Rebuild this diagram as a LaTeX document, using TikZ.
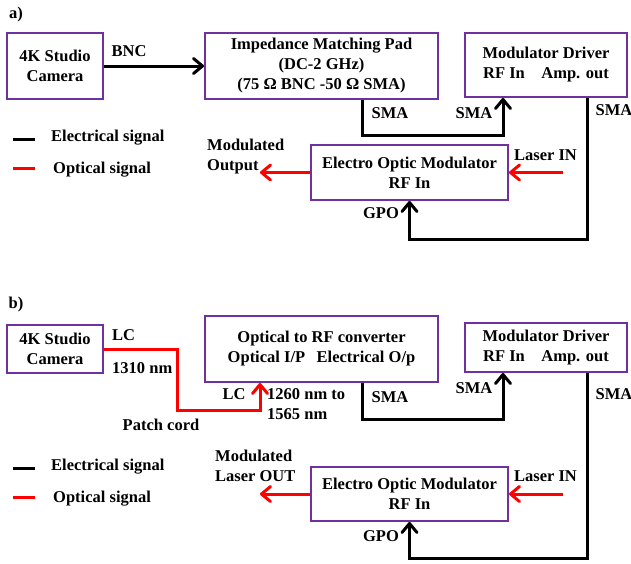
\documentclass[tikz,border=0pt]{standalone}
\usepackage{fontspec}
\setmainfont{Liberation Serif}
\usetikzlibrary{arrows.meta}
\definecolor{boxpurple}{RGB}{112,48,160}
\begin{document}
\begin{tikzpicture}[x=1pt,y=-1pt,
  font=\fontsize{16.5}{20}\selectfont\bfseries,
  blk/.style={draw=boxpurple, line width=2pt, inner sep=0pt, align=center},
  lbl/.style={inner sep=0pt, align=left},
  elec/.style={line width=3pt, black},
  opt/.style={line width=3pt, red},
  tip/.style={-{Straight Barb[length=9pt,width=15pt,line width=3pt,round]}}]
\useasboundingbox (0,0) rectangle (631,563);

% ---------------- panel a ----------------
\node[lbl] (la) at (16,15) {a)};
\node[blk, minimum width=96pt, minimum height=66pt] (camA) at (55,66) {4K Studio\\Camera};
\node[blk, minimum width=233pt, minimum height=66pt] (impA) at (321.5,66) {Impedance Matching Pad\\(DC-2 GHz)\\(75 Ω BNC -50 Ω SMA)};
\node[blk, minimum width=162pt, minimum height=64pt] (drvA) at (546,65) {Modulator Driver\\RF In\hspace{1em}Amp. out};
\node[blk, minimum width=197pt, minimum height=55pt] (eomA) at (409.5,172.5) {Electro Optic Modulator\\RF In};

\draw[elec,tip] (camA.east) -- (impA.west);
\coordinate (smaA) at (503,135);
\draw[elec,tip] ([xshift=40.5pt]impA.south) |- (smaA) -- (smaA |- drvA.south);
\coordinate (gpoA) at (587,239);
\draw[elec,tip] ([xshift=41pt]drvA.south) -- (gpoA) -| (eomA.south);
\coordinate (lasA) at (563,172.5);
\draw[opt,tip] (lasA) -- (eomA.east);
\coordinate (outA) at (260,172.5);
\draw[opt,tip] (eomA.west) -- (outA);

\node[lbl] (bncA) at (129,51) {BNC};
\node[lbl] (smaA1) at (390,113) {SMA};
\node[lbl] (smaA2) at (474,113) {SMA};
\node[lbl] (smaA3) at (614,110) {SMA};
\node[lbl] (lasAl) at (545.5,155) {Laser IN};
\node[lbl] (gpoAl) at (381,213) {GPO};
\node[lbl, anchor=west] (modA) at (207,157) {Modulated\\Output};

\coordinate (leA1) at (13,139); \coordinate (leA2) at (35,139);
\draw[elec] (leA1) -- (leA2);
\node[lbl, anchor=west] (leAt1) at (51,138) {Electrical signal};
\coordinate (leA3) at (13,168); \coordinate (leA4) at (35,168);
\draw[opt] (leA3) -- (leA4);
\node[lbl, anchor=west] (leAt2) at (53,170) {Optical signal};

% ---------------- panel b ----------------
\node[lbl] (lb) at (16,305) {b)};
\node[blk, minimum width=96pt, minimum height=48pt] (camB) at (55,349) {4K Studio\\Camera};
\node[blk, minimum width=233pt, minimum height=66pt] (optB) at (321.5,349) {Optical to RF converter\\Optical I/P\hspace{0.7em}Electrical O/p};
\node[blk, minimum width=162pt, minimum height=49pt] (drvB) at (546,347.5) {Modulator Driver\\RF In\hspace{1em}Amp. out};
\node[blk, minimum width=197pt, minimum height=54pt] (eomB) at (409.5,494) {Electro Optic Modulator\\RF In};

\coordinate (pcB1) at (177,410);
\coordinate (pcB2) at (260,410);
\draw[opt,tip] (camB.east) -| (pcB1) -- (pcB2) -- (pcB2 |- optB.south);
\coordinate (smaB) at (503,419);
\draw[elec,tip] ([xshift=40.5pt]optB.south) |- (smaB) -- (smaB |- drvB.south);
\coordinate (gpoB) at (587,558);
\draw[elec,tip] ([xshift=41pt]drvB.south) -- (gpoB) -| (eomB.south);
\coordinate (lasB) at (563,494);
\draw[opt,tip] (lasB) -- (eomB.east);
\coordinate (outB) at (260,494);
\draw[opt,tip] (eomB.west) -- (outB);

\node[lbl] (lcB1) at (123.5,335) {LC};
\node[lbl, anchor=west] (nmB) at (112,368) {1310 nm};
\node[lbl] (pcB) at (161,425) {Patch cord};
\node[lbl] (lcB2) at (234,394) {LC};
\node[lbl, anchor=west] (rngB) at (267,404) {1260 nm to\\1565 nm};
\node[lbl] (smaB1) at (390,397) {SMA};
\node[lbl] (smaB2) at (474,388) {SMA};
\node[lbl] (smaB3) at (614,394) {SMA};
\node[lbl] (lasBl) at (545.5,476) {Laser IN};
\node[lbl] (gpoBl) at (381,536) {GPO};
\node[lbl, anchor=west] (modB) at (215,466) {Modulated\\Laser OUT};

\coordinate (leB1) at (13,468); \coordinate (leB2) at (35,468);
\draw[elec] (leB1) -- (leB2);
\node[lbl, anchor=west] (leBt1) at (51,467) {Electrical signal};
\coordinate (leB3) at (13,497); \coordinate (leB4) at (35,497);
\draw[opt] (leB3) -- (leB4);
\node[lbl, anchor=west] (leBt2) at (53,499) {Optical signal};
\end{tikzpicture}
\end{document}
